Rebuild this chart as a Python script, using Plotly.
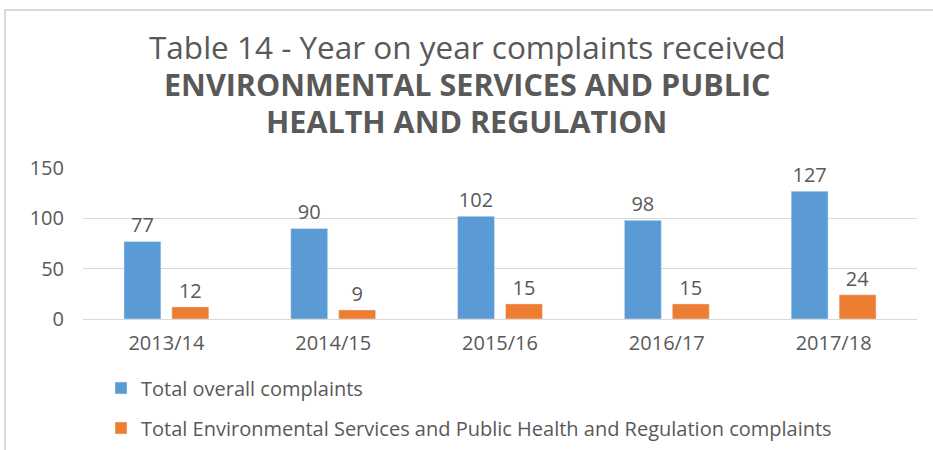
import plotly.graph_objects as go

categories = ["2013/14", "2014/15", "2015/16", "2016/17", "2017/18"]
overall = [77, 90, 102, 98, 127]
env = [12, 9, 15, 15, 24]
series_names = ["Total overall complaints",
                "Total Environmental Services and Public Health and Regulation complaints"]
title_lines = ["Table 14 - Year on year complaints received",
               "ENVIRONMENTAL SERVICES AND PUBLIC",
               "HEALTH AND REGULATION"]
y_ticks = [0, 50, 100, 150]

FONT = "Open Sans, sans-serif"
TXT = "#595959"

W, H = 933, 450
L, R, T, B = 83, 16, 168, 131
pw, ph = W - L - R, H - T - B
PLOT_BOTTOM = H - B


def py(pix):
    return (PLOT_BOTTOM - pix) / ph


def px(pix):
    return (pix - L) / pw


fig = go.Figure()
fig.add_trace(go.Bar(x=categories, y=overall, name=series_names[0],
                     marker_color="#5B9BD5", text=overall, textposition="outside",
                     textfont=dict(size=20, color=TXT), cliponaxis=False,
                     legend="legend"))
fig.add_trace(go.Bar(x=categories, y=env, name=series_names[1],
                     marker_color="#ED7D31", text=env, textposition="outside",
                     textfont=dict(size=20, color=TXT), cliponaxis=False,
                     legend="legend2"))

leg_common = dict(orientation="v", xanchor="left", yanchor="middle",
                  font=dict(size=20, color=TXT, family=FONT),
                  bgcolor="rgba(0,0,0,0)", itemwidth=30)

fig.update_layout(
    width=W, height=H,
    margin=dict(l=L, r=R, t=T, b=B, autoexpand=False),
    paper_bgcolor="white", plot_bgcolor="white",
    font=dict(family=FONT, color=TXT, size=20),
    barmode="group", bargap=0.425, bargroupgap=0.23,
    xaxis=dict(showgrid=False, showline=True, linecolor="#d9d9d9", linewidth=1.3,
               tickfont=dict(size=20, color=TXT), ticks="", ticklabelstandoff=6),
    yaxis=dict(range=[0, 150], tickvals=y_ticks, showgrid=True, gridcolor="#d9d9d9",
               gridwidth=1.3, zeroline=False, showline=False,
               tickfont=dict(size=20, color=TXT), ticks="",
               ticklabelstandoff=18),
    showlegend=True,
    legend=dict(x=px(101), y=py(388), **leg_common),
    legend2=dict(x=px(101), y=py(428), **leg_common),
)

# title lines as annotations
title_specs = [(title_lines[0], 47, 31.5, False),
               (title_lines[1], 85, 30.5, True),
               (title_lines[2], 122, 30.5, True)]
for txt, ypix, size, bold in title_specs:
    fig.add_annotation(text=("<b>%s</b>" % txt) if bold else txt,
                       xref="paper", yref="paper", x=px(W / 2), y=py(ypix - 1),
                       xanchor="center", yanchor="middle", showarrow=False,
                       font=dict(size=size, color=TXT, family=FONT))

# light border around the chart area
fig.add_shape(type="rect", xref="paper", yref="paper",
              x0=px(5), x1=px(W + 10), y0=py(H + 10), y1=py(10),
              line=dict(color="#d9d9d9", width=2), fillcolor="rgba(0,0,0,0)", layer="below")

fig.write_html("out.html", config={"displayModeBar": False},
               post_script="document.body.style.margin='0';document.body.style.overflow='hidden';")
